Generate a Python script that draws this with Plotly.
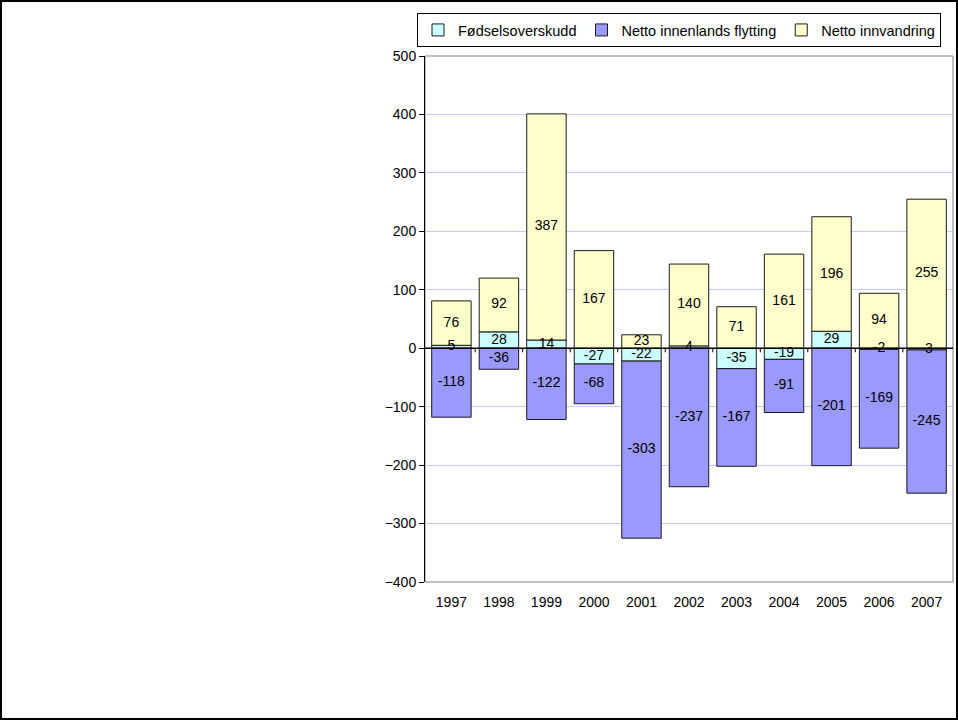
import plotly.graph_objects as go

years = ["1997", "1998", "1999", "2000", "2001", "2002", "2003", "2004", "2005", "2006", "2007"]
fodsel = [5, 28, 14, -27, -22, 4, -35, -19, 29, -2, -3]
innenlands = [-118, -36, -122, -68, -303, -237, -167, -91, -201, -169, -245]
innvandring = [76, 92, 387, 167, 23, 140, 71, 161, 196, 94, 255]

series = [
    ("Fødselsoverskudd", fodsel, "#CCFFFF"),
    ("Netto innenlands flytting", innenlands, "#9999FF"),
    ("Netto innvandring", innvandring, "#FFFFCC"),
]

FONT = "Liberation Sans, Arial"
fig = go.Figure()
for name, vals, col in series:
    fig.add_trace(go.Bar(
        x=years, y=vals, name=name,
        marker=dict(color=col, line=dict(color="#1a1a1a", width=1)),
    ))

# data labels at segment centres (relative stacking, as the bars do)
pos_base = [0] * len(years)
neg_base = [0] * len(years)
for name, vals, col in series:
    centres = []
    for i, v in enumerate(vals):
        if v >= 0:
            centres.append(pos_base[i] + v / 2)
            pos_base[i] += v
        else:
            centres.append(neg_base[i] + v / 2)
            neg_base[i] += v
    fig.add_trace(go.Scatter(
        x=years, y=centres, mode="text", text=[str(v) for v in vals],
        textposition="middle center", showlegend=False, hoverinfo="skip",
        cliponaxis=False,
        textfont=dict(family=FONT, size=14, color="black"),
    ))

W, H = 958, 720
L, R, T, B = 425, 5, 56, 138
pw, ph = W - L - R, H - T - B

shapes = [
    dict(type="rect", xref="paper", yref="paper", x0=0, x1=1, y0=0, y1=1,
         line=dict(color="#808080", width=1), layer="below"),
    dict(type="line", xref="paper", yref="y", x0=0, x1=1, y0=0, y1=0,
         line=dict(color="black", width=1.5), layer="above"),
    dict(type="rect", xref="paper", yref="paper",
         x0=-L / pw + 1 / pw, x1=1 + (R - 1) / pw,
         y0=-B / ph + 1 / ph, y1=1 + (T - 1) / ph,
         line=dict(color="black", width=2)),
]
for i in range(len(years) - 1):
    shapes.append(dict(type="line", xref="x", yref="y", x0=i + 0.5, x1=i + 0.5,
                       y0=0, y1=-7, line=dict(color="black", width=1), layer="above"))

fig.update_layout(
    width=W, height=H,
    margin=dict(l=L, r=R, t=T, b=B, autoexpand=False),
    barmode="relative", bargap=0.17,
    plot_bgcolor="white", paper_bgcolor="white",
    font=dict(family=FONT, size=14, color="black"),
    showlegend=True,
    legend=dict(orientation="h", x=(417 - L) / pw, xanchor="left",
                y=1 + (T - 13) / ph, yanchor="top",
                bordercolor="black", borderwidth=1, bgcolor="white",
                font=dict(size=14.5), traceorder="normal",
                itemwidth=30, tracegroupgap=0),
    shapes=shapes,
)
fig.update_yaxes(range=[-400, 500], dtick=100, showgrid=True, gridcolor="#C8C8FF",
                 gridwidth=1, zeroline=False, showline=True, linecolor="black",
                 linewidth=1, ticks="outside", ticklen=5, tickcolor="black",
                 tickfont=dict(size=14))
fig.update_xaxes(showgrid=False, zeroline=False, showline=False, ticks="",
                 tickfont=dict(size=14), ticklabelstandoff=10)

fig.write_html("out.html", config={"displayModeBar": False},
               post_script="document.body.style.margin='0px';")
